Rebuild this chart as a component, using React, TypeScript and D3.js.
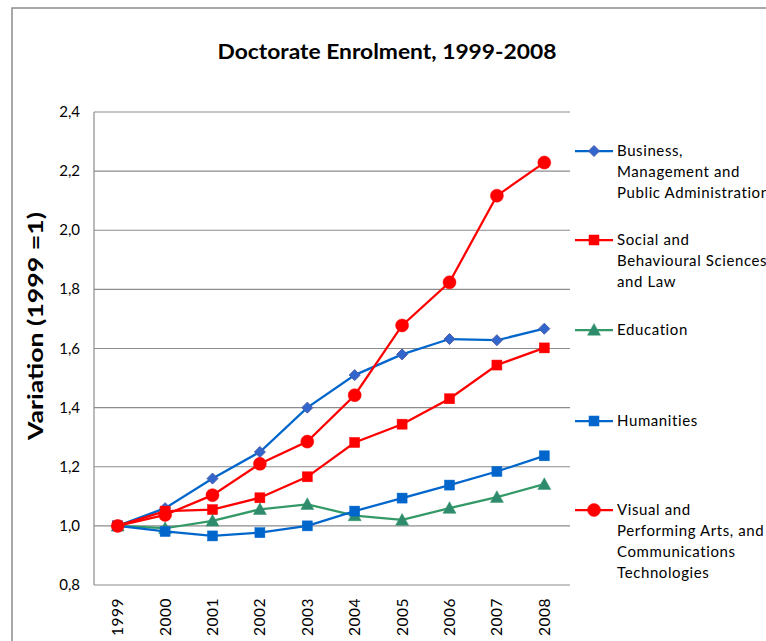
import React from "react";
import * as d3 from "d3";

const years = ["1999", "2000", "2001", "2002", "2003", "2004", "2005", "2006", "2007", "2008"];
const business = [1.0, 1.06, 1.16, 1.25, 1.40, 1.51, 1.58, 1.632, 1.628, 1.667];
const social = [1.0, 1.05, 1.055, 1.095, 1.166, 1.282, 1.344, 1.43, 1.544, 1.602];
const education = [1.0, 0.992, 1.017, 1.056, 1.073, 1.035, 1.02, 1.06, 1.097, 1.141];
const humanities = [1.0, 0.981, 0.966, 0.977, 1.0, 1.05, 1.094, 1.138, 1.184, 1.237];
const visual = [1.0, 1.037, 1.104, 1.21, 1.285, 1.442, 1.678, 1.824, 2.117, 2.229];
const yTicks = [0.8, 1.0, 1.2, 1.4, 1.6, 1.8, 2.0, 2.2, 2.4];

const seriesNames = [
  ["Business,", "Management and", "Public Administration"],
  ["Social and", "Behavioural Sciences", "and Law"],
  ["Education"],
  ["Humanities"],
  ["Visual and", "Performing Arts, and", "Communications", "Technologies"],
];

const series = [
  { values: business, color: "#0066CC", fill: "#3366CC", stroke: "#4B5DA6", marker: "diamond" },
  { values: social, color: "#FF0000", fill: "#FF0000", stroke: "#FF0000", marker: "square" },
  { values: education, color: "#339966", fill: "#2E8B6E", stroke: "#339966", marker: "triangle" },
  { values: humanities, color: "#0066CC", fill: "#0066CC", stroke: "#0066CC", marker: "square" },
  { values: visual, color: "#FF0000", fill: "#FF0000", stroke: "#FF0000", marker: "circle" },
];

const legendY = [151, 240, 330, 421, 510];

const FONT = "Lato, 'Open Sans', sans-serif";

function Marker({ type, x, y, fill, stroke }: any) {
  if (type === "diamond") {
    const s = 5.5;
    return <path d={`M${x},${y - s}L${x + s},${y}L${x},${y + s}L${x - s},${y}Z`} fill={fill} stroke={stroke} strokeWidth={1} />;
  }
  if (type === "square") {
    const s = 5;
    return <rect x={x - s} y={y - s} width={2 * s} height={2 * s} fill={fill} stroke={stroke} strokeWidth={0.5} />;
  }
  if (type === "triangle") {
    const s = 6.5;
    return <path d={`M${x},${y - s}L${x + s},${y + s * 0.8}L${x - s},${y + s * 0.8}Z`} fill={fill} stroke={stroke} strokeWidth={0.5} />;
  }
  return <circle cx={x} cy={y} r={6.5} fill={fill} stroke={stroke} strokeWidth={0.5} />;
}

export default function App() {
  const W = 766, H = 641;
  const left = 94, right = 568, top = 112, bottom = 585;
  const x = d3.scaleBand<string>().domain(years).range([left, right]);
  const y = d3.scaleLinear().domain([0.8, 2.4]).range([bottom, top]);
  const cx = (yr: string) => (x(yr) as number) + x.bandwidth() / 2;
  const line = d3.line<number>().x((_, i) => cx(years[i])).y((v) => y(v));

  return (
    <svg width={W} height={H} style={{ position: "absolute", left: 0, top: 0 }}>
      <rect x={0} y={0} width={W} height={H} fill="#fff" />
      <rect x={12} y={8} width={800} height={700} fill="none" stroke="#8C8C8C" strokeWidth={1.5} />
      <text x={387} y={59} textAnchor="middle" fontFamily={FONT} fontWeight="bold" fontSize={20} textLength={339} lengthAdjust="spacingAndGlyphs" fill="#000">
        Doctorate Enrolment, 1999-2008
      </text>
      {yTicks.map((t) => (
        <g key={t}>
          <line x1={left} x2={right + 2} y1={y(t)} y2={y(t)} stroke="#8C8C8C" strokeWidth={1.2} />
          <text x={80} y={y(t) + 5} textAnchor="end" fontFamily={FONT} fontSize={15} fill="#000">
            {d3.format(".1f")(t).replace(".", ",")}
          </text>
        </g>
      ))}
      <line x1={left} x2={left} y1={top} y2={bottom} stroke="#8C8C8C" strokeWidth={1.2} />
      {years.map((yr) => (
        <text key={yr} transform={`translate(${cx(yr) + 5.5},598) rotate(-90)`} textAnchor="end" fontFamily={FONT} fontSize={15.5} letterSpacing={0.5} fill="#000">
          {yr}
        </text>
      ))}
      <text transform={`translate(43,326) rotate(-90)`} textAnchor="middle" fontFamily={FONT} fontWeight="bold" fontSize={20} textLength={228} lengthAdjust="spacingAndGlyphs" fill="#000">
        Variation (1999 =1)
      </text>
      {series.map((s, i) => (
        <g key={i}>
          <path d={line(s.values) as string} fill="none" stroke={s.color} strokeWidth={2.25} />
          {s.values.map((v, j) => (
            <Marker key={j} type={s.marker} x={cx(years[j])} y={y(v)} fill={s.fill} stroke={s.stroke} />
          ))}
        </g>
      ))}
      {series.map((s, i) => (
        <g key={"l" + i}>
          <line x1={575} x2={613} y1={legendY[i]} y2={legendY[i]} stroke={s.color} strokeWidth={2.25} />
          <Marker type={s.marker} x={594} y={legendY[i]} fill={s.fill} stroke={s.stroke} />
          {seriesNames[i].map((ln, k) => (
            <text key={k} x={617} y={legendY[i] + 5 + k * 21} fontFamily={FONT} fontSize={15} letterSpacing={0.6} fill="#000">
              {ln}
            </text>
          ))}
        </g>
      ))}
    </svg>
  );
}
